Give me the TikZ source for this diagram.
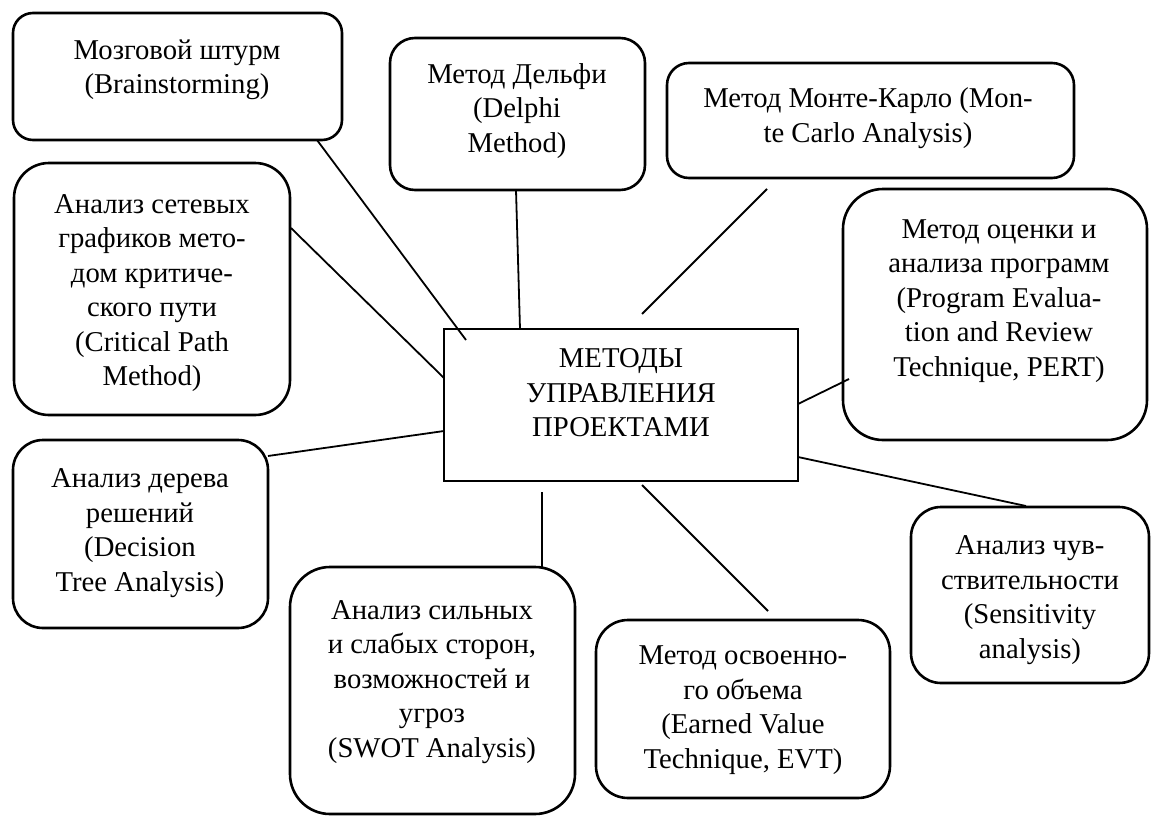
\documentclass[tikz,border=0pt]{standalone}
\usepackage{fontspec}
\setmainfont{Liberation Serif}
\begin{document}
\begin{tikzpicture}[x=1pt,y=-1pt]
\tikzset{
  box/.style={draw, line width=2.6pt, inner sep=0pt},
  hub/.style={draw, line width=2pt, inner sep=0pt},
  txt/.style={align=center, inner sep=0pt, font=\fontsize{28.7}{34.5}\selectfont},
  link/.style={line width=1.8pt},
}
\useasboundingbox[fill=white] (0,0) rectangle (1152,817);

% boxes
\node[box, rounded corners=20pt, minimum width=329pt, minimum height=127pt] (brain) at (177.5,76.5) {};
\node[box, rounded corners=25pt, minimum width=255pt, minimum height=152pt] (delphi) at (517.5,114) {};
\node[box, rounded corners=22pt, minimum width=407pt, minimum height=115pt] (monte) at (870.5,120.5) {};
\node[box, rounded corners=35pt, minimum width=276pt, minimum height=252pt] (crit) at (152,289) {};
\node[box, rounded corners=40pt, minimum width=304pt, minimum height=251pt] (pert) at (995,314.5) {};
\node[hub, minimum width=354pt, minimum height=152pt] (hub) at (621,405) {};
\node[box, rounded corners=30pt, minimum width=255pt, minimum height=188pt] (dec) at (140.5,534) {};
\node[box, rounded corners=40pt, minimum width=285pt, minimum height=247pt] (swot) at (432.5,690.5) {};
\node[box, rounded corners=32pt, minimum width=294pt, minimum height=178pt] (evt) at (743,709) {};
\node[box, rounded corners=30pt, minimum width=238pt, minimum height=176pt] (sens) at (1030,595) {};

% texts
\node[txt] (brainT) at (177,70) {Мозговой штурм\\(Brainstorming)};
\node[txt] (delphiT) at (517,111) {Метод Дельфи\\(Delphi\\Method)};
\node[txt] (monteT) at (868,118) {Метод Монте-Карло (Mon-\\te Carlo Analysis)};
\node[txt] (critT) at (152,293) {Анализ сетевых\\графиков мето-\\дом критиче-\\ского пути\\(Critical Path\\Method)};
\node[txt] (pertT) at (999,301) {Метод оценки и\\анализа программ\\(Program Evalua-\\tion and Review\\Technique, PERT)};
\node[txt] (hubT) at (621,393) {МЕТОДЫ\\УПРАВЛЕНИЯ\\ПРОЕКТАМИ};
\node[txt] (decT) at (140,533) {Анализ дерева\\решений\\(Decision\\Tree Analysis)};
\node[txt] (swotT) at (432,682) {Анализ сильных\\и слабых сторон,\\возможностей и\\угроз\\(SWOT Analysis)};
\node[txt] (evtT) at (743,710) {Метод освоенно-\\го объема\\(Earned Value\\Technique, EVT)};
\node[txt] (sensT) at (1030,600) {Анализ чув-\\ствительности\\(Sensitivity\\analysis)};

% connector end points
\coordinate (brainA) at (317,140);   \coordinate (brainB) at (466,340);
\coordinate (delphiA) at (516,190);  \coordinate (delphiB) at (520,329);
\coordinate (monteA) at (767,189);   \coordinate (monteB) at (642,314);
\coordinate (critA) at (291,228);    \coordinate (critB) at (444,378);
\coordinate (pertA) at (849,379);    \coordinate (pertB) at (798,404);
\coordinate (decA) at (268,456);     \coordinate (decB) at (444,431);
\coordinate (swotA) at (542,567);    \coordinate (swotB) at (542,492);
\coordinate (evtA) at (768,611);     \coordinate (evtB) at (642,485);
\coordinate (sensA) at (1026,506);   \coordinate (sensB) at (798,457);

\draw[link] (brainA) -- (brainB);
\draw[link] (delphiA) -- (delphiB);
\draw[link] (monteA) -- (monteB);
\draw[link] (critA) -- (critB);
\draw[link] (pertA) -- (pertB);
\draw[link] (decA) -- (decB);
\draw[link] (swotA) -- (swotB);
\draw[link] (evtA) -- (evtB);
\draw[link] (sensA) -- (sensB);
\end{tikzpicture}
\end{document}
